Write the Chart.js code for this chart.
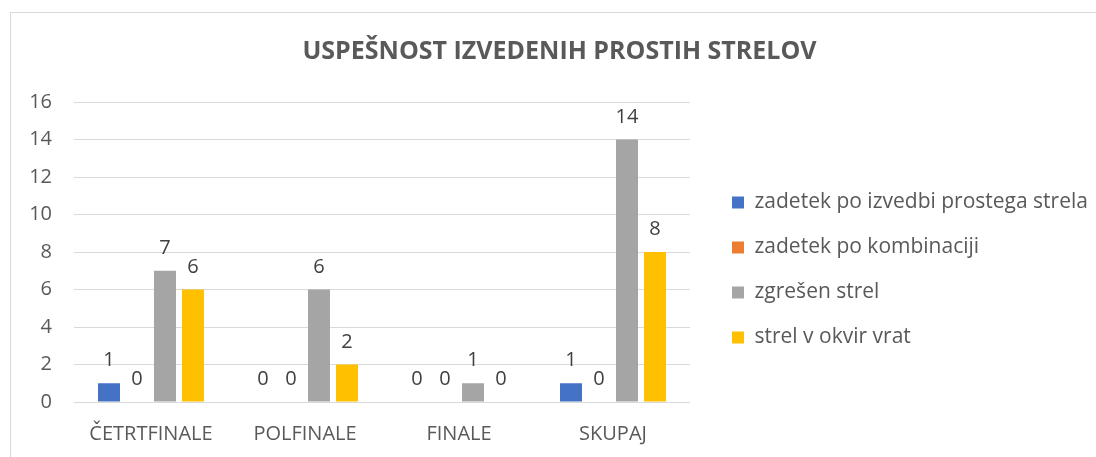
<!DOCTYPE html>
<html>
<head>
<meta charset="utf-8">
<script src="https://cdn.jsdelivr.net/npm/chart.js@4"></script>
<style>
  html, body { margin: 0; padding: 0; background: #fff; }
  #wrap { position: relative; width: 1096px; height: 457px; overflow: hidden; }
  #frame { position: absolute; left: 10px; top: 12px; width: 1200px; height: 600px; border: 1px solid #d9d9d9; }
  canvas { position: absolute; left: 0; top: 0; }
</style>
</head>
<body>
<div id="wrap">
  <div id="frame"></div>
  <canvas id="myChart" width="1096" height="457"></canvas>
</div>
<script>
// categories and series
const categories = ["ČETRTFINALE", "POLFINALE", "FINALE", "SKUPAJ"];
const zadetekIzvedba = [1, 0, 0, 1];
const zadetekKombinacija = [0, 0, 0, 0];
const zgresen = [7, 6, 1, 14];
const okvirVrat = [6, 2, 0, 8];
const yTicks = [0, 2, 4, 6, 8, 10, 12, 14, 16];

const font = "'Open Sans', 'DejaVu Sans', sans-serif";

// labels above the bars
const barLabels = {
  id: "barLabels",
  afterDatasetsDraw(chart) {
    const ctx = chart.ctx;
    ctx.save();
    ctx.font = "20px " + font;
    ctx.fillStyle = "#404040";
    ctx.textAlign = "center";
    ctx.textBaseline = "alphabetic";
    chart.data.datasets.forEach(function (ds, i) {
      chart.getDatasetMeta(i).data.forEach(function (bar, j) {
        ctx.fillText(String(ds.data[j]), bar.x, bar.y - 17);
      });
    });
    ctx.restore();
  }
};

// keep legend where the original has it
const legendPlace = {
  id: "legendPlace",
  beforeInit(chart) {
    const fit = chart.legend.fit;
    chart.legend.fit = function () {
      fit.call(this);
      this.width = 406;
    };
  },
  afterLayout(chart) {
    const lg = chart.legend;
    lg.left = 708;
    lg.right = 1096;
    lg.top = 168;
    lg.bottom = 457;
  }
};

const ctx = document.getElementById("myChart").getContext("2d");
const myChart = new Chart(ctx, {
  type: "bar",
  data: {
    labels: categories,
    datasets: [
      { label: "zadetek po izvedbi prostega strela", data: zadetekIzvedba, backgroundColor: "#4472c4" },
      { label: "zadetek po kombinaciji", data: zadetekKombinacija, backgroundColor: "#ed7d31" },
      { label: "zgrešen strel", data: zgresen, backgroundColor: "#a5a5a5" },
      { label: "strel v okvir vrat", data: okvirVrat, backgroundColor: "#ffc000" }
    ]
  },
  options: {
    responsive: false,
    animation: false,
    devicePixelRatio: 1,
    categoryPercentage: 0.727,
    barPercentage: 0.786,
    layout: { padding: { left: 23, right: 0, top: 0, bottom: 0 } },
    scales: {
      x: {
        grid: { display: false },
        border: { display: false },
        ticks: { color: "#595959", font: { family: font, size: 20 }, padding: 12, maxRotation: 0 },
        afterFit(scale) { scale.height = 55; }
      },
      y: {
        min: 0,
        max: 16,
        afterBuildTicks(scale) { scale.ticks = yTicks.map(function (v) { return { value: v }; }); },
        grid: { color: "#d9d9d9", lineWidth: 1, drawTicks: false },
        border: { display: false },
        ticks: { color: "#595959", font: { family: font, size: 20 }, padding: 22 },
        afterFit(scale) { scale.width = 51; }
      }
    },
    plugins: {
      title: {
        display: true,
        text: "USPEŠNOST IZVEDENIH PROSTIH STRELOV",
        color: "#595959",
        font: { family: font, size: 25, weight: "bold" },
        padding: { top: 37, bottom: 35 }
      },
      legend: {
        position: "right",
        align: "start",
        labels: {
          color: "#595959",
          font: { family: font, size: 21 },
          boxWidth: 12,
          boxHeight: 12,
          padding: 24
        }
      },
      tooltip: { enabled: false }
    }
  },
  plugins: [barLabels, legendPlace]
});
</script>
</body>
</html>
